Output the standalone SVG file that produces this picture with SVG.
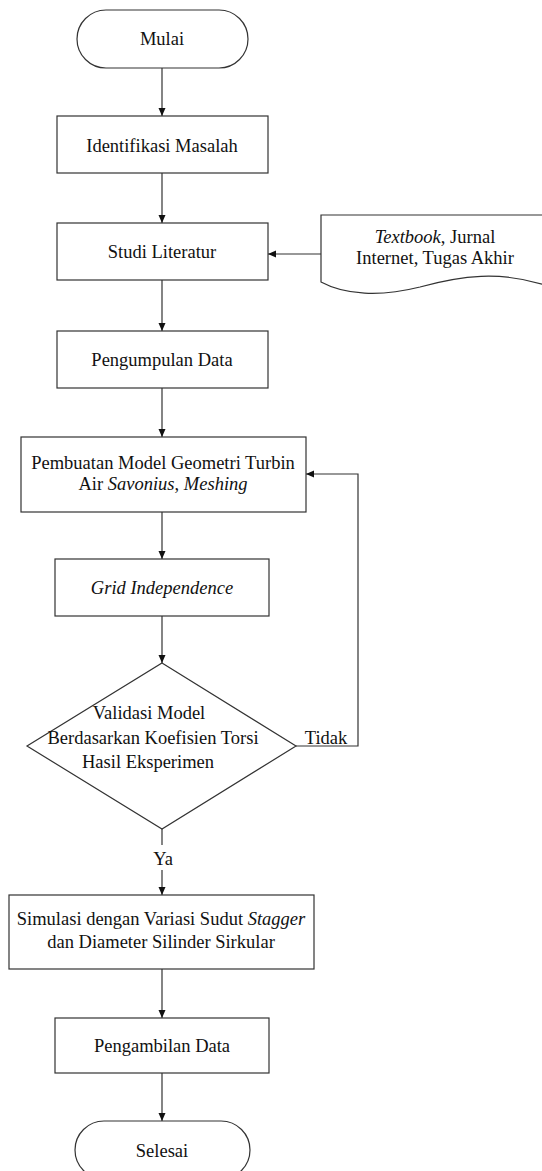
<svg xmlns="http://www.w3.org/2000/svg" width="542" height="1171" viewBox="0 0 542 1171">
<style>
.n{fill:#fff;stroke:#333;stroke-width:1.2}
.t{font-family:"Liberation Serif","Times New Roman",serif;font-size:18.5px;fill:#111;text-anchor:middle}
.c{fill:none;stroke:#333;stroke-width:1.2}
</style>
<defs>
<marker id="ah" markerUnits="userSpaceOnUse" markerWidth="9" markerHeight="8" refX="8" refY="4" orient="auto">
<path d="M0,0.5 L8,4 L0,7.5 z" fill="#111"/>
</marker>
</defs>
<rect width="542" height="1171" fill="#fff"/>
<g id="connectors">
<line class="c" x1="162" y1="68" x2="162" y2="116" marker-end="url(#ah)"/>
<line class="c" x1="162" y1="173" x2="162" y2="223" marker-end="url(#ah)"/>
<line class="c" x1="321" y1="254" x2="268" y2="254" marker-end="url(#ah)"/>
<line class="c" x1="162" y1="280" x2="162" y2="331" marker-end="url(#ah)"/>
<line class="c" x1="162" y1="388" x2="162" y2="437" marker-end="url(#ah)"/>
<line class="c" x1="162" y1="512" x2="162" y2="559" marker-end="url(#ah)"/>
<line class="c" x1="162" y1="616" x2="162" y2="663" marker-end="url(#ah)"/>
<polyline class="c" points="296,746 358,746 358,474 306,474" marker-end="url(#ah)"/>
<line class="c" x1="162" y1="829" x2="162" y2="845"/>
<line class="c" x1="162" y1="870" x2="162" y2="895" marker-end="url(#ah)"/>
<line class="c" x1="162" y1="969" x2="162" y2="1018" marker-end="url(#ah)"/>
<line class="c" x1="162" y1="1073" x2="162" y2="1121" marker-end="url(#ah)"/>
<text class="t" x="326" y="744">Tidak</text>
<text class="t" x="163" y="865">Ya</text>
</g>
<g id="mulai">
<rect class="n" x="77" y="10" width="171" height="58" rx="29" ry="29"/>
<text class="t" x="162" y="45">Mulai</text>
</g>
<g id="identifikasi">
<rect class="n" x="57" y="116" width="211" height="57"/>
<text class="t" x="162" y="152">Identifikasi Masalah</text>
</g>
<g id="studi">
<rect class="n" x="57" y="223" width="211" height="57"/>
<text class="t" x="162" y="258">Studi Literatur</text>
</g>
<g id="sumber">
<path class="n" d="M548,215 L321,215 L321,282 C345,295 380,297 420,287 C460,276 500,270 548,286 Z"/>
<text class="t" x="435" y="243"><tspan font-style="italic">Textbook</tspan>, Jurnal</text>
<text class="t" x="435" y="264">Internet, Tugas Akhir</text>
</g>
<g id="pengumpulan">
<rect class="n" x="57" y="331" width="211" height="57"/>
<text class="t" x="162" y="366">Pengumpulan Data</text>
</g>
<g id="pembuatan">
<rect class="n" x="21" y="437" width="285" height="75"/>
<text class="t" x="163" y="469">Pembuatan Model Geometri Turbin</text>
<text class="t" x="163" y="490">Air <tspan font-style="italic">Savonius</tspan>, <tspan font-style="italic">Meshing</tspan></text>
</g>
<g id="grid">
<rect class="n" x="55" y="559" width="214" height="57"/>
<text class="t" x="162" y="594" font-style="italic">Grid Independence</text>
</g>
<g id="validasi">
<polygon class="n" points="162,663 296,746 162,829 27,746"/>
<text class="t" x="149" y="719">Validasi Model</text>
<text class="t" x="153" y="744">Berdasarkan Koefisien Torsi</text>
<text class="t" x="148" y="768">Hasil Eksperimen</text>
</g>
<g id="simulasi">
<rect class="n" x="9" y="895" width="305" height="74"/>
<text class="t" x="161" y="925">Simulasi dengan Variasi Sudut <tspan font-style="italic">Stagger</tspan></text>
<text class="t" x="161" y="948">dan Diameter Silinder Sirkular</text>
</g>
<g id="pengambilan">
<rect class="n" x="55" y="1018" width="214" height="55"/>
<text class="t" x="162" y="1052">Pengambilan Data</text>
</g>
<g id="selesai">
<rect class="n" x="75" y="1121" width="175" height="58" rx="29" ry="29"/>
<text class="t" x="162" y="1157">Selesai</text>
</g>
</svg>
